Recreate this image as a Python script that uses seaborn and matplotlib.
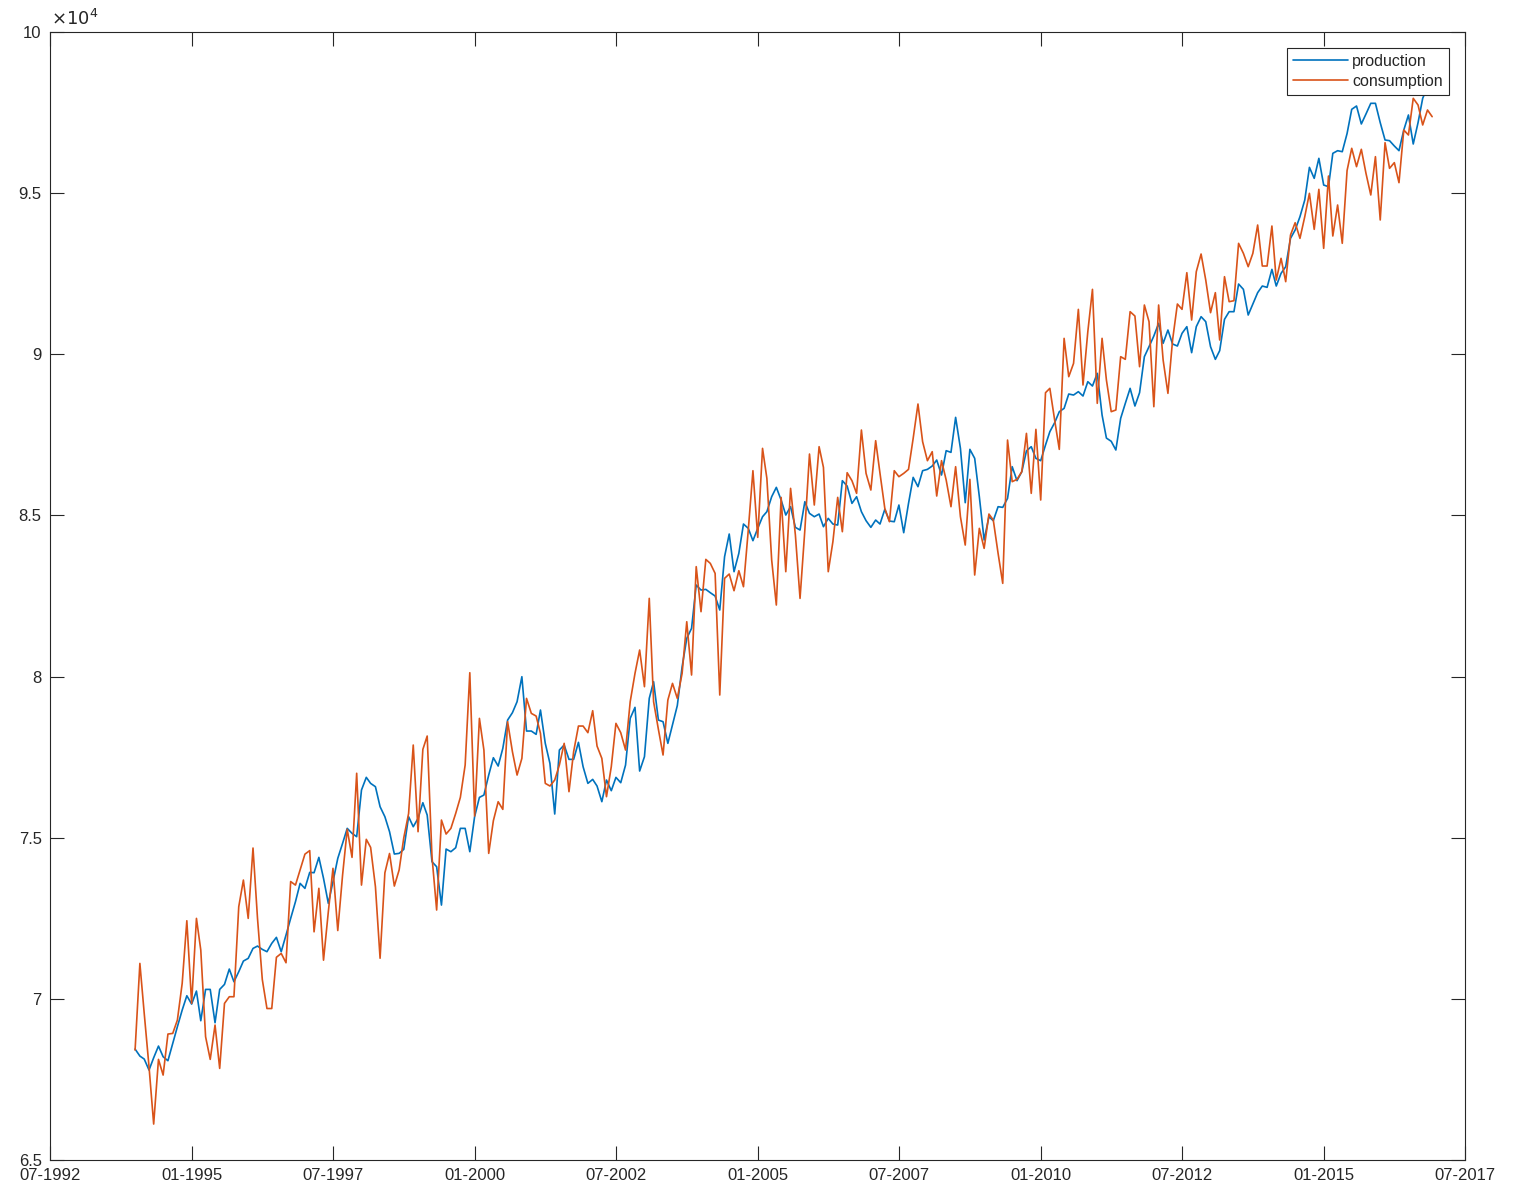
import pandas as pd
import numpy as np
import matplotlib
matplotlib.use("Agg")
import matplotlib.pyplot as plt
import matplotlib.dates as mdates
from matplotlib.ticker import FuncFormatter
import seaborn as sns

# monthly values, Jan 1994 .. Dec 2016
start_month = "1994-01-01"

production = [
    68442, 68225, 68132, 67791, 68173, 68535, 68204, 68080, 68618, 69135,
    69652, 70097, 69838, 70242, 69321, 70293, 70293, 69259, 70293, 70449,
    70925, 70531, 70842, 71173, 71256, 71565, 71638, 71535, 71463, 71722,
    71908, 71463, 71980, 72497, 73015, 73583, 73428, 73925, 73914, 74390,
    73739, 72963, 73635, 74359, 74825, 75290, 75135, 75032, 76480, 76873,
    76686, 76583, 75962, 75652, 75187, 74494, 74514, 74638, 75652, 75341,
    75600, 76086, 75703, 74255, 74100, 72910, 74648, 74566, 74690, 75290,
    75290, 74566, 75652, 76251, 76324, 76944, 77482, 77224, 77772, 78651,
    78879, 79220, 79996, 78310, 78310, 78207, 78962, 77928, 77307, 75735,
    77721, 77876, 77431, 77431, 77959, 77204, 76686, 76810, 76604, 76118,
    76790, 76459, 76872, 76707, 77255, 78703, 79045, 77069, 77514, 79324,
    79841, 78651, 78600, 77928, 78500, 79100, 80300, 81185, 81496, 82840,
    82685, 82706, 82602, 82499, 82065, 83719, 84423, 83254, 83823, 84733,
    84599, 84216, 84599, 84960, 85116, 85581, 85871, 85478, 85012, 85271,
    84630, 84547, 85426, 85064, 84960, 85043, 84650, 84909, 84733, 84702,
    86078, 85912, 85374, 85581, 85116, 84837, 84630, 84857, 84733, 85188,
    84826, 84805, 85323, 84464, 85374, 86181, 85892, 86388, 86429, 86533,
    86719, 86254, 87009, 86957, 88043, 87081, 85395, 87050, 86771, 85581,
    84237, 84960, 84836, 85271, 85250, 85529, 86512, 86078, 86357, 87002,
    87133, 86771, 86698, 87185, 87598, 87877, 88219, 88322, 88767, 88736,
    88840, 88705, 89150, 89015, 89409, 88116, 87400, 87300, 87030, 88012,
    88478, 88943, 88395, 88808, 89926, 90236, 90567, 90960, 90340, 90753,
    90319, 90257, 90650, 90857, 90050, 90857, 91167, 91012, 90236, 89843,
    90112, 91084, 91322, 91322, 92180, 92015, 91218, 91560, 91912, 92118,
    92077, 92635, 92118, 92511, 92718, 93597, 93856, 94270, 94787, 95800,
    95459, 96080, 95252, 95200, 96235, 96317, 96286, 96850, 97601, 97704,
    97146, 97456, 97787, 97787, 97187, 96649, 96628, 96463, 96318, 96959,
    97425, 96525, 97187, 97942, 98300, 98500,
]

consumption = [
    68411, 71100, 69549, 67894, 66115, 68122, 67635, 68908, 68928, 69342,
    70480, 72424, 69859, 72497, 71514, 68825, 68122, 69187, 67842, 69859,
    70066, 70066, 72859, 73686, 72497, 74680, 72500, 70600, 69700, 69700,
    71290, 71410, 71120, 73640, 73530, 74000, 74490, 74600, 72080, 73430,
    71200, 72700, 74050, 72120, 73840, 75260, 74390, 77000, 73530, 74950,
    74700, 73480, 71260, 73910, 74510, 73500, 74000, 75000, 75750, 77876,
    75186, 77740, 78155, 74410, 72756, 75548, 75114, 75290, 75755, 76251,
    77255, 80120, 75672, 78703, 77720, 74514, 75527, 76117, 75879, 78599,
    77668, 76944, 77462, 79323, 78858, 78775, 78238, 76686, 76604, 76790,
    77255, 77928, 76428, 77669, 78465, 78465, 78259, 78941, 77845, 77462,
    76273, 77204, 78548, 78259, 77721, 79220, 80100, 80824, 79686, 82427,
    79220, 78362, 77566, 79272, 79789, 79324, 80099, 81702, 80048, 83411,
    82013, 83636, 83512, 83202, 79427, 83047, 83182, 82664, 83285, 82788,
    84547, 86388, 84319, 87081, 86150, 83616, 82220, 85560, 83254, 85840,
    84392, 82426, 84547, 86905, 85323, 87133, 86491, 83254, 84185, 85560,
    84495, 86326, 86078, 85685, 87650, 86305, 85788, 87319, 86305, 85219,
    84805, 86388, 86202, 86305, 86429, 87391, 88457, 87288, 86698, 86978,
    85602, 86700, 86100, 85271, 86512, 84961, 84081, 86119, 83151, 84599,
    83978, 85043, 84857, 83823, 82892, 87339, 86047, 86119, 86357, 87546,
    85685, 87671, 85478, 88808, 88943, 87960, 87050, 90494, 89305, 89718,
    91394, 89047, 90700, 92015, 88478, 90495, 89202, 88219, 88271, 89926,
    89843, 91322, 91187, 89615, 91529, 91012, 88374, 91529, 89823, 88788,
    90443, 91560, 91394, 92532, 91063, 92563, 93111, 92305, 91291, 91912,
    90443, 92408, 91632, 91663, 93442, 93132, 92718, 93132, 94011, 92739,
    92739, 93980, 92304, 92977, 92253, 93701, 94083, 93597, 94270, 94994,
    93877, 95118, 93287, 95531, 93670, 94632, 93443, 95700, 96391, 95822,
    96360, 95615, 94943, 96132, 94167, 96566, 95770, 95946, 95325, 96959,
    96804, 97942, 97735, 97115, 97580, 97373,
]

series_names = ["production", "consumption"]
colors = ["#0072BD", "#D95319"]
tick_dates = pd.date_range("1992-07-01", "2017-07-01", freq="30MS")
y_ticks = [65000, 70000, 75000, 80000, 85000, 90000, 95000, 100000]

dates = pd.date_range(start_month, periods=len(production), freq="MS")
df = pd.DataFrame({
    "date": np.concatenate([dates, dates]),
    "value": production + consumption,
    "series": [series_names[0]] * len(production) + [series_names[1]] * len(consumption),
})

sns.set_style("ticks", {
    "xtick.direction": "in", "ytick.direction": "in",
    "xtick.top": True, "ytick.right": True,
})
plt.rcParams["font.family"] = ["Liberation Sans", "DejaVu Sans"]
plt.rcParams["xtick.major.size"] = 10
plt.rcParams["ytick.major.size"] = 10
plt.rcParams["axes.linewidth"] = 0.8

fig = plt.figure(figsize=(15.26, 11.88), dpi=100)
ax = fig.add_axes([50 / 1526, 1 - 1160 / 1188, 1415 / 1526, 1128 / 1188])

sns.lineplot(data=df, x="date", y="value", hue="series", palette=colors,
             estimator=None, linewidth=1.2, ax=ax)

ax.set_xlim(tick_dates[0], tick_dates[-1])
ax.set_ylim(65000, 100000)
ax.set_xticks(tick_dates)
ax.xaxis.set_major_formatter(mdates.DateFormatter("%m-%Y"))
ax.set_yticks(y_ticks)
ax.yaxis.set_major_formatter(FuncFormatter(lambda v, p: f"{v / 1e4:g}"))
ax.tick_params(labelsize=12, colors="#262626", width=0.8, pad=6)
ax.set_xlabel("")
ax.set_ylabel("")
for s in ax.spines.values():
    s.set_color("#262626")

ax.text(0.001, 1.003, r"$\times10^{4}$", transform=ax.transAxes,
        ha="left", va="bottom", fontsize=13, color="#262626")

leg = ax.legend(loc="upper right", fontsize=11.5, handlelength=3.4,
                handletextpad=0.3, labelspacing=0.3, borderpad=0.38,
                borderaxespad=1.0, fancybox=False, framealpha=1,
                edgecolor="#262626", title=None)
leg.get_frame().set_linewidth(0.8)

fig.savefig("out.png", dpi=100)
